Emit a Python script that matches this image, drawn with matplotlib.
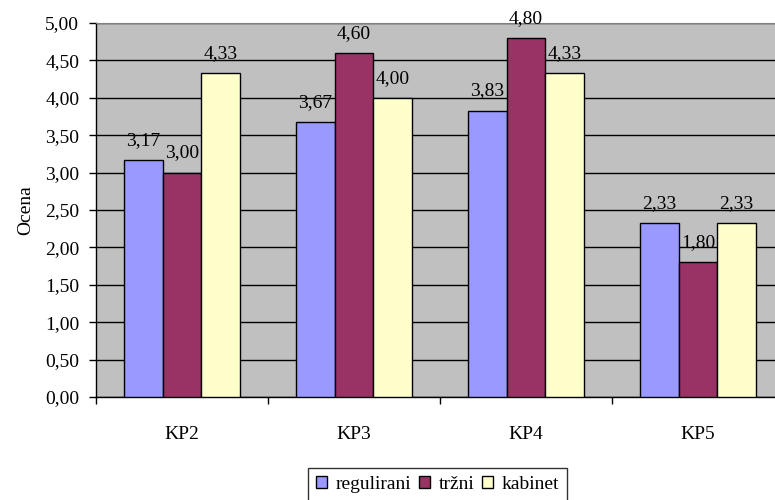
import numpy as np
import matplotlib.pyplot as plt

# kategorije in ocene
kategorije = ['KP2', 'KP3', 'KP4', 'KP5']
regulirani = [3.17, 3.67, 3.83, 2.33]
trzni = [3.00, 4.60, 4.80, 1.80]
kabinet = [4.33, 4.00, 4.33, 2.33]

serije = ['regulirani', 'tržni', 'kabinet']
barve = ['#9999FF', '#993366', '#FFFFCC']

plt.rcParams['font.family'] = ['Liberation Serif', 'DejaVu Serif']
fs = 14

fig = plt.figure(figsize=(7.75, 5), dpi=100)
# desni rob sega čez sliko
ax = fig.add_axes([96 / 775, 1 - 397 / 500, 688 / 775, (397 - 23) / 500])
ax.set_facecolor('#C0C0C0')

x = np.arange(len(kategorije))
sirina = 0.224
for i, (vrednosti, ime, barva) in enumerate(zip([regulirani, trzni, kabinet], serije, barve)):
    pos = x + (i - 1) * sirina
    ax.bar(pos, vrednosti, sirina, color=barva, edgecolor='black', linewidth=1.0,
           label=ime, zorder=3)
    for px, v in zip(pos, vrednosti):
        ax.annotate(f'{v:.2f}'.replace('.', ','), (px, v), xytext=(0, 8),
                    textcoords='offset points', ha='center', va='bottom',
                    fontsize=fs, zorder=4, annotation_clip=False)

ax.set_xlim(-0.5, len(kategorije) - 0.5)
ax.set_ylim(0, 5)
ax.set_yticks(np.arange(0, 5.01, 0.5))
ax.set_yticklabels([f'{t:.2f}'.replace('.', ',') for t in np.arange(0, 5.01, 0.5)])
ax.yaxis.grid(True, color='black', linewidth=1.0, zorder=1)

# kljukice med kategorijami
ax.set_xticks(np.arange(-0.5, len(kategorije), 1.0))
ax.set_xticklabels([])
ax.set_xticks(x, minor=True)
ax.set_xticklabels(kategorije, minor=True)
ax.tick_params(axis='x', which='major', direction='out', length=5, width=1)
ax.tick_params(axis='x', which='minor', length=0, pad=21, labelsize=fs)
ax.tick_params(axis='y', direction='out', length=5, width=1, labelsize=fs, pad=7)

ax.spines['top'].set_color('#808080')
ax.spines['right'].set_visible(False)
ax.spines['left'].set_linewidth(1.0)
ax.spines['bottom'].set_linewidth(1.0)

ax.set_ylabel('Ocena', fontsize=fs, labelpad=8)

# legenda spodaj, spodnji rob izven slike
fig.legend(loc='upper left', bbox_to_anchor=(308 / 775, 1 - 468 / 500), ncol=3,
           fontsize=fs, frameon=True, fancybox=False, edgecolor='black',
           handlelength=0.55, handleheight=0.55, handletextpad=0.45, columnspacing=0.4,
           borderpad=0.42, borderaxespad=0)

fig.savefig('out.png', dpi=100)
